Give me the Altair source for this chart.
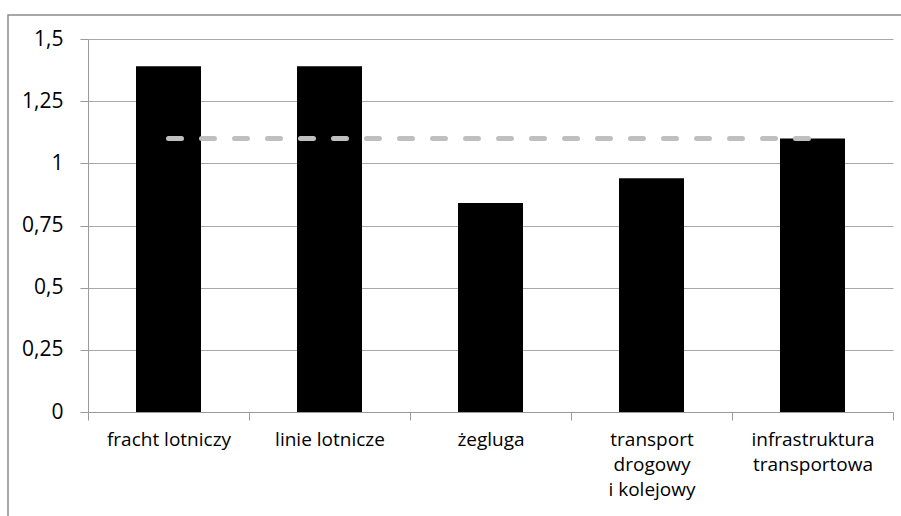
import altair as alt
import pandas as pd

categories = ["fracht lotniczy", "linie lotnicze", "żegluga",
              "transport|drogowy|i kolejowy", "infrastruktura|transportowa"]
values = [1.39, 1.39, 0.84, 0.94, 1.10]
average = [1.10, 1.10, 1.10, 1.10, 1.10]
y_ticks = [0, 0.25, 0.5, 0.75, 1.0, 1.25, 1.5]

df = pd.DataFrame({"cat": categories, "val": values, "avg": average})

FONT = "Open Sans"
W, H = 805, 373

x_enc = alt.X("cat:N", sort=categories,
              scale=alt.Scale(paddingInner=0, paddingOuter=0),
              axis=alt.Axis(title=None, labelAngle=0, tickBand="extent",
                            labelExpr="split(datum.label, '|')",
                            labelLineHeight=25, labelFontSize=19,
                            labelFont=FONT, labelColor="#000000",
                            tickSize=8, labelPadding=10,
                            domainColor="#9a9a9a", tickColor="#9a9a9a",
                            grid=False))

y_enc = alt.Y("val:Q", scale=alt.Scale(domain=[0, 1.5], nice=False),
              axis=alt.Axis(title=None, values=y_ticks,
                            labelExpr="replace(format(datum.value, '~g'), '.', ',')",
                            labelFontSize=21, labelFont=FONT, labelColor="#000000",
                            tickSize=8, labelPadding=17,
                            domainColor="#9a9a9a", tickColor="#9a9a9a",
                            gridColor="#a8a8a8", gridWidth=1.2))

bars = alt.Chart(df).mark_bar(color="#000000", size=65).encode(x=x_enc, y=y_enc)

line = alt.Chart(df).mark_line(color="#bfbfbf", strokeWidth=5,
                               strokeDash=[13, 20], strokeCap="round").encode(
    x=alt.X("cat:N", sort=categories),
    y=alt.Y("avg:Q"))

frame = alt.Chart(alt.Data(values=[{"f": 1}])).mark_rect(
    fill=None, stroke="#8c8c8c", strokeWidth=1.5).encode(
    x=alt.value(-80), x2=alt.value(W + 20),
    y=alt.value(-24), y2=alt.value(H + 130))

chart = alt.layer(bars, line, frame).properties(
    width=W, height=H,
    autosize=alt.AutoSizeParams(type="none"),
    padding={"left": 88, "top": 39, "right": 8, "bottom": 104},
    background="#ffffff",
).configure_view(stroke=None)

chart.save("out.html", embed_options={"renderer": "svg", "actions": False})
